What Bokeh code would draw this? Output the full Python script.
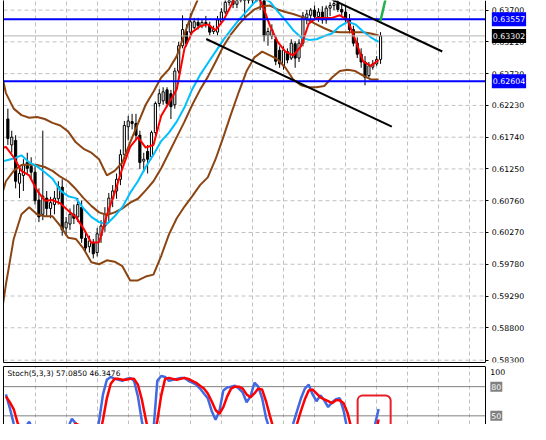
from bokeh.plotting import figure
from bokeh.models import (Range1d, LinearAxis, FixedTicker, Label, BoxAnnotation,
                          ColumnDataSource, PrintfTickFormatter, Grid)
from bokeh.layouts import column
from bokeh.embed import file_html
from bokeh.resources import INLINE

# ---------------- data ----------------
bars = list(range(97))
open_ = [0.6202, 0.6162, 0.6169, 0.6103, 0.6115, 0.6135, 0.6129, 0.6120, 0.6077, 0.6055,
         0.6080, 0.6064, 0.6070, 0.6079, 0.6097, 0.6034, 0.6040, 0.6055, 0.6051, 0.6066,
         0.6018, 0.6005, 0.6012, 0.5996, 0.6022, 0.6037, 0.6055, 0.6079, 0.6091, 0.6109,
         0.6147, 0.6190, 0.6198, 0.6195, 0.6177, 0.6137, 0.6152, 0.6144, 0.6181, 0.6226,
         0.6230, 0.6247, 0.6241, 0.6224, 0.6276, 0.6315, 0.6337, 0.6336, 0.6343, 0.6351,
         0.6346, 0.6351, 0.6346, 0.6337, 0.6336, 0.6352, 0.6367, 0.6382, 0.6391, 0.6379,
         0.6403, 0.6407, 0.6400, 0.6388, 0.6403, 0.6394, 0.6392, 0.6331, 0.6330, 0.6325,
         0.6308, 0.6284, 0.6306, 0.6296, 0.6318, 0.6296, 0.6319, 0.6358, 0.6362, 0.6370,
         0.6360, 0.6367, 0.6355, 0.6373, 0.6377, 0.6380, 0.6371, 0.6367, 0.6355, 0.6340,
         0.6319, 0.6302, 0.6290, 0.6269, 0.6282, 0.6287, 0.6294]
high_ = [0.6218, 0.6184, 0.6177, 0.6129, 0.6140, 0.6150, 0.6143, 0.6132, 0.6095, 0.6184,
         0.6091, 0.6082, 0.6091, 0.6106, 0.6109, 0.6051, 0.6064, 0.6070, 0.6080, 0.6076,
         0.6028, 0.6022, 0.6017, 0.6034, 0.6046, 0.6066, 0.6088, 0.6100, 0.6118, 0.6155,
         0.6199, 0.6207, 0.6210, 0.6210, 0.6184, 0.6150, 0.6162, 0.6184, 0.6229, 0.6248,
         0.6251, 0.6251, 0.6247, 0.6281, 0.6321, 0.6362, 0.6348, 0.6365, 0.6358, 0.6358,
         0.6355, 0.6361, 0.6352, 0.6346, 0.6361, 0.6373, 0.6389, 0.6400, 0.6403, 0.6412,
         0.6414, 0.6422, 0.6414, 0.6407, 0.6417, 0.6407, 0.6397, 0.6343, 0.6348, 0.6331,
         0.6314, 0.6314, 0.6311, 0.6325, 0.6322, 0.6325, 0.6367, 0.6370, 0.6373, 0.6377,
         0.6373, 0.6376, 0.6377, 0.6382, 0.6385, 0.6385, 0.6379, 0.6376, 0.6364, 0.6346,
         0.6328, 0.6311, 0.6299, 0.6290, 0.6293, 0.6299, 0.6336]
low_ = [0.6162, 0.6150, 0.6095, 0.6080, 0.6091, 0.6118, 0.6109, 0.6070, 0.6043, 0.6046,
        0.6052, 0.6049, 0.6055, 0.6070, 0.6022, 0.6022, 0.6031, 0.6040, 0.6043, 0.6011,
        0.5996, 0.5996, 0.5987, 0.5990, 0.6011, 0.6028, 0.6043, 0.6066, 0.6079, 0.6100,
        0.6140, 0.6169, 0.6186, 0.6169, 0.6125, 0.6120, 0.6118, 0.6140, 0.6177, 0.6221,
        0.6224, 0.6221, 0.6202, 0.6218, 0.6272, 0.6311, 0.6314, 0.6331, 0.6340, 0.6340,
        0.6342, 0.6343, 0.6331, 0.6333, 0.6331, 0.6349, 0.6364, 0.6377, 0.6373, 0.6373,
        0.6382, 0.6355, 0.6380, 0.6377, 0.6388, 0.6370, 0.6322, 0.6315, 0.6325, 0.6285,
        0.6281, 0.6278, 0.6288, 0.6293, 0.6281, 0.6290, 0.6314, 0.6348, 0.6352, 0.6355,
        0.6352, 0.6349, 0.6349, 0.6361, 0.6370, 0.6367, 0.6361, 0.6349, 0.6334, 0.6314,
        0.6296, 0.6281, 0.6254, 0.6266, 0.6278, 0.6284, 0.6287]
close_ = [0.6172, 0.6174, 0.6106, 0.6118, 0.6132, 0.6126, 0.6120, 0.6076, 0.6051, 0.6083,
          0.6064, 0.6073, 0.6080, 0.6098, 0.6031, 0.6043, 0.6055, 0.6049, 0.6070, 0.6018,
          0.6003, 0.6014, 0.5994, 0.6025, 0.6037, 0.6055, 0.6080, 0.6091, 0.6109, 0.6147,
          0.6192, 0.6199, 0.6195, 0.6177, 0.6135, 0.6140, 0.6140, 0.6181, 0.6226, 0.6241,
          0.6244, 0.6226, 0.6221, 0.6276, 0.6315, 0.6340, 0.6318, 0.6352, 0.6352, 0.6346,
          0.6351, 0.6349, 0.6336, 0.6340, 0.6355, 0.6367, 0.6382, 0.6391, 0.6379, 0.6403,
          0.6407, 0.6400, 0.6388, 0.6403, 0.6394, 0.6385, 0.6330, 0.6337, 0.6340, 0.6291,
          0.6287, 0.6308, 0.6293, 0.6319, 0.6296, 0.6319, 0.6361, 0.6364, 0.6370, 0.6360,
          0.6367, 0.6355, 0.6373, 0.6377, 0.6380, 0.6371, 0.6367, 0.6355, 0.6340, 0.6319,
          0.6302, 0.6290, 0.6266, 0.6284, 0.6287, 0.6294, 0.63302]

# indicator lines, read at the left edge and then every second bar
line_x = [-1.5] + [b - 0.5 for b in range(0, 97, 2)]
ma_fast = [0.6157,
           0.6159, 0.6143, 0.6122, 0.6115, 0.6092, 0.6076, 0.6077, 0.6072, 0.6061, 0.6051,
           0.6033, 0.6011, 0.6012, 0.6054, 0.6088, 0.6126, 0.6159, 0.6174, 0.6158, 0.6162,
           0.6207, 0.6227, 0.6248, 0.6311, 0.6336, 0.6345, 0.6348, 0.6339, 0.6354, 0.6377,
           0.6400, 0.6407, 0.6400, 0.6379, 0.6346, 0.6321, 0.6306, 0.6300, 0.6314, 0.6349,
           0.6358, 0.6358, 0.6358, 0.6362, 0.6355, 0.6324, 0.6291, 0.6284, 0.6293]
ma_slow = [0.6137,
           0.6138, 0.6141, 0.6146, 0.6135, 0.6129, 0.6120, 0.6110, 0.6092, 0.6083, 0.6080,
           0.6064, 0.6051, 0.6043, 0.6040, 0.6052, 0.6066, 0.6088, 0.6106, 0.6128, 0.6147,
           0.6168, 0.6181, 0.6198, 0.6220, 0.6248, 0.6270, 0.6288, 0.6306, 0.6324, 0.6340,
           0.6355, 0.6368, 0.6382, 0.6389, 0.6383, 0.6368, 0.6354, 0.6339, 0.6328, 0.6324,
           0.6325, 0.6330, 0.6334, 0.6345, 0.6352, 0.6348, 0.6337, 0.6328, 0.6321]
bb_upper = [0.6269,
            0.6242, 0.6218, 0.6208, 0.6204, 0.6205, 0.6202, 0.6196, 0.6192, 0.6183, 0.6166,
            0.6156, 0.6150, 0.6140, 0.6115, 0.6122, 0.6135, 0.6166, 0.6195, 0.6224, 0.6244,
            0.6266, 0.6279, 0.6299, 0.6333, 0.6367, 0.6394, 0.6423, 0.6440, 0.6453, 0.6456,
            0.6452, 0.6446, 0.6446, 0.6446, 0.6455, 0.6449, 0.6459, 0.6468, 0.6466, 0.6456,
            0.6444, 0.6431, 0.6409, 0.6395, 0.6394, 0.6395, 0.6403, 0.6406, 0.6400]
bb_mid = [0.6086,
          0.6106, 0.6122, 0.6131, 0.6132, 0.6131, 0.6128, 0.6122, 0.6113, 0.6106, 0.6094,
          0.6080, 0.6068, 0.6058, 0.6054, 0.6058, 0.6064, 0.6073, 0.6079, 0.6092, 0.6106,
          0.6126, 0.6150, 0.6174, 0.6198, 0.6224, 0.6247, 0.6267, 0.6290, 0.6314, 0.6333,
          0.6348, 0.6361, 0.6371, 0.6376, 0.6377, 0.6371, 0.6367, 0.6364, 0.6360, 0.6354,
          0.6348, 0.6342, 0.6337, 0.6336, 0.6336, 0.6336, 0.6336, 0.6334, 0.6331]
bb_lower = [0.5907,
            0.5947, 0.6017, 0.6055, 0.6066, 0.6055, 0.6052, 0.6052, 0.6037, 0.6019, 0.6017,
            0.6002, 0.5981, 0.5978, 0.5984, 0.5982, 0.5975, 0.5953, 0.5953, 0.5959, 0.5962,
            0.5991, 0.6024, 0.6049, 0.6067, 0.6083, 0.6100, 0.6112, 0.6140, 0.6174, 0.6210,
            0.6244, 0.6276, 0.6297, 0.6306, 0.6300, 0.6294, 0.6281, 0.6263, 0.6254, 0.6251,
            0.6251, 0.6253, 0.6266, 0.6276, 0.6278, 0.6276, 0.6269, 0.6263, 0.6263]

stoch_main = [72, 58, 42, 30, 30, 38, 44, 35, 25, 30, 24, 20, 25, 30, 22, 28, 38, 47, 42, 30,
              20, 15, 12, 20, 45, 72, 87, 90, 88, 87, 86, 88, 89, 86, 70, 45, 25, 15, 35, 86,
              91, 90, 86, 87, 88, 89, 89, 86, 84, 82, 78, 73, 68, 55, 46, 55, 76, 79, 80, 81,
              78, 74, 64, 70, 84, 80, 68, 48, 35, 25, 20, 18, 22, 30, 42, 55, 68, 78, 82, 72,
              65, 71, 66, 59, 64, 67, 68, 55, 35, 20, 12, 10, 8, 15, 25, 40, 57.0850]
stoch_signal = [70, 64, 57, 43, 34, 33, 37, 39, 35, 30, 26, 25, 23, 25, 26, 27, 29, 38, 42, 40,
                31, 22, 16, 16, 26, 46, 68, 83, 88, 88, 87, 87, 88, 88, 82, 67, 47, 28, 25, 45,
                71, 88, 89, 88, 87, 88, 89, 88, 86, 84, 81, 78, 73, 65, 56, 52, 59, 70, 78, 80,
                80, 78, 72, 69, 73, 78, 77, 65, 50, 36, 27, 21, 20, 23, 31, 42, 55, 67, 76, 77,
                73, 69, 67, 65, 63, 66, 66, 63, 53, 37, 22, 14, 10, 11, 16, 27, 46.3476]

hline_levels = [0.63557, 0.62604]
bid_price = 0.63302
price_ticks = [0.63700, 0.63210, 0.62720, 0.62230, 0.61740, 0.61250, 0.60760,
               0.60270, 0.59780, 0.59290, 0.58800, 0.58300]
grid_bars = [7, 15, 23, 31, 39, 47, 55, 63, 71, 79, 87, 95, 103, 111, 119]
trend_upper_x = [64.1, 111.9]
trend_upper_y = [0.64412, 0.63061]
trend_lower_x = [51.1, 98.9]
trend_lower_y = [0.63254, 0.61903]
green_x = [95.95, 97.2, 97.7]
green_y = [0.63526, 0.63848, 0.63967]
stoch_levels = [80, 50]
stoch_box = dict(left=90.1, right=98.6, top=70.8, bottom=20)

# ---------------- view ----------------
FONT = "DejaVu Sans"
GRID = "#c0c0c0"
BROWN = "#8b4513"
X0, AXIS_X, X1 = -1.125, 123.125, 134.625
x_range = Range1d(X0, X1)
stoch_x = [b - 0.5 for b in bars]


def border_axis(**kw):
    return LinearAxis(ticker=FixedTicker(ticks=[]), axis_line_color="black", axis_line_width=1,
                      major_tick_in=0, major_tick_out=0, minor_tick_in=0, minor_tick_out=0,
                      major_label_standoff=0, **kw)


main = figure(width=530, height=365, x_range=x_range, y_range=Range1d(0.582644, 0.63848),
              output_backend="svg", toolbar_location=None,
              x_axis_location=None, y_axis_location=None,
              min_border_left=3, min_border_right=0, min_border_top=0, min_border_bottom=3)
main.outline_line_color = None
main.xgrid.visible = False
main.ygrid.visible = False
main.add_layout(Grid(dimension=0, ticker=FixedTicker(ticks=grid_bars), grid_line_color=GRID,
                     grid_line_dash="4 3"), "center")
main.segment(x0=[X0] * len(price_ticks), x1=[AXIS_X] * len(price_ticks), y0=price_ticks,
             y1=price_ticks, line_color=GRID, line_dash="4 3", line_width=1)
main.add_layout(border_axis(), "left")
main.add_layout(border_axis(bounds=(X0, AXIS_X)), "below")
yax = LinearAxis(ticker=FixedTicker(ticks=price_ticks), formatter=PrintfTickFormatter(format="%.5f"),
                 fixed_location=AXIS_X,
                 axis_line_color="black", major_tick_out=3, major_tick_in=0,
                 minor_tick_out=0, minor_tick_in=0, major_label_standoff=3,
                 major_label_text_font=FONT, major_label_text_font_size="7.8px",
                 major_label_text_color="black")
main.add_layout(yax, "right")

# candles
src = ColumnDataSource(dict(
    x=bars, h=high_, l=low_,
    top=[max(o, c) for o, c in zip(open_, close_)],
    bottom=[min(o, c) for o, c in zip(open_, close_)],
    fill=["white" if c >= o else "black" for o, c in zip(open_, close_)]))
main.segment("x", "h", "x", "l", source=src, line_color="black", line_width=1)
main.vbar("x", 0.55, "top", "bottom", source=src, fill_color="fill", line_color="black", line_width=1)

# bands and averages
for ys in (bb_upper, bb_mid, bb_lower):
    main.line(line_x, ys, line_color=BROWN, line_width=2)
main.line(line_x, ma_slow, line_color="#00bfff", line_width=2)
main.line(line_x, ma_fast, line_color="#ff0000", line_width=2)

# drawn objects
main.segment(x0=[X0], x1=[AXIS_X], y0=[bid_price], y1=[bid_price], line_color="#b4b4b4", line_width=1)
main.segment(x0=[X0] * 2, x1=[AXIS_X] * 2, y0=hline_levels, y1=hline_levels,
             line_color="#0000ff", line_width=2)
main.line(trend_upper_x, trend_upper_y, line_color="black", line_width=2)
main.line(trend_lower_x, trend_lower_y, line_color="black", line_width=2)
main.line(green_x, green_y, line_color="#22b14c", line_width=2.5)

for val, bg in ((hline_levels[0], "#0000ff"), (bid_price, "black"), (hline_levels[1], "#0000ff")):
    main.add_layout(Label(x=AXIS_X, y=val, x_offset=6, text=f"{val:.5f}",
                          text_font=FONT, text_font_size="7.8px", text_color="white",
                          text_align="left", text_baseline="middle",
                          background_fill_color=bg, padding=(1, 4)))

# ---------------- stochastic panel ----------------
st = figure(width=530, height=59, x_range=x_range, y_range=Range1d(41.1, 100.7),
            output_backend="svg", toolbar_location=None,
            x_axis_location=None, y_axis_location=None,
            min_border_left=3, min_border_right=0, min_border_top=1, min_border_bottom=0)
st.outline_line_color = None
st.xgrid.visible = False
st.ygrid.visible = False
st.add_layout(Grid(dimension=0, ticker=FixedTicker(ticks=grid_bars), grid_line_color=GRID,
                   grid_line_dash="4 3"), "center")
st.add_layout(border_axis(), "left")
st.add_layout(border_axis(bounds=(X0, AXIS_X)), "above")
st.add_layout(border_axis(fixed_location=AXIS_X), "right")
st.segment(x0=[X0] * 2, x1=[AXIS_X] * 2, y0=stoch_levels, y1=stoch_levels,
           line_color="#808080", line_width=1)
st.line(stoch_x, stoch_main, line_color="#4169e1", line_width=2.5)
st.line(stoch_x, stoch_signal, line_color="#ff0000", line_width=2.5)
st.add_layout(BoxAnnotation(left=stoch_box["left"], right=stoch_box["right"],
                            top=stoch_box["top"], bottom=stoch_box["bottom"],
                            fill_color=None, fill_alpha=0, line_color="#e8202a", line_alpha=1.0,
                            line_width=2, border_radius=5))
st.add_layout(Label(x=4, y=93.6, x_units="screen",
                    text=f"Stoch(5,3,3) {stoch_main[-1]:.4f} {stoch_signal[-1]:.4f}",
                    text_font=FONT, text_font_size="7.5px", text_color="black",
                    text_align="left", text_baseline="middle"))
st.add_layout(Label(x=AXIS_X, y=95.5, x_offset=4.5, text="100", text_font=FONT,
                    text_font_size="7.8px", text_color="black", text_align="left",
                    text_baseline="middle"))
for lv in stoch_levels:
    st.add_layout(Label(x=AXIS_X, y=lv, x_offset=4.5, text=f"{lv}", text_font=FONT,
                        text_font_size="7.8px", text_color="white", text_align="left",
                        text_baseline="middle", background_fill_color="#808080", padding=(1, 2)))

layout = column(main, st, spacing=0)
open("out.html", "w").write(file_html(layout, INLINE))
